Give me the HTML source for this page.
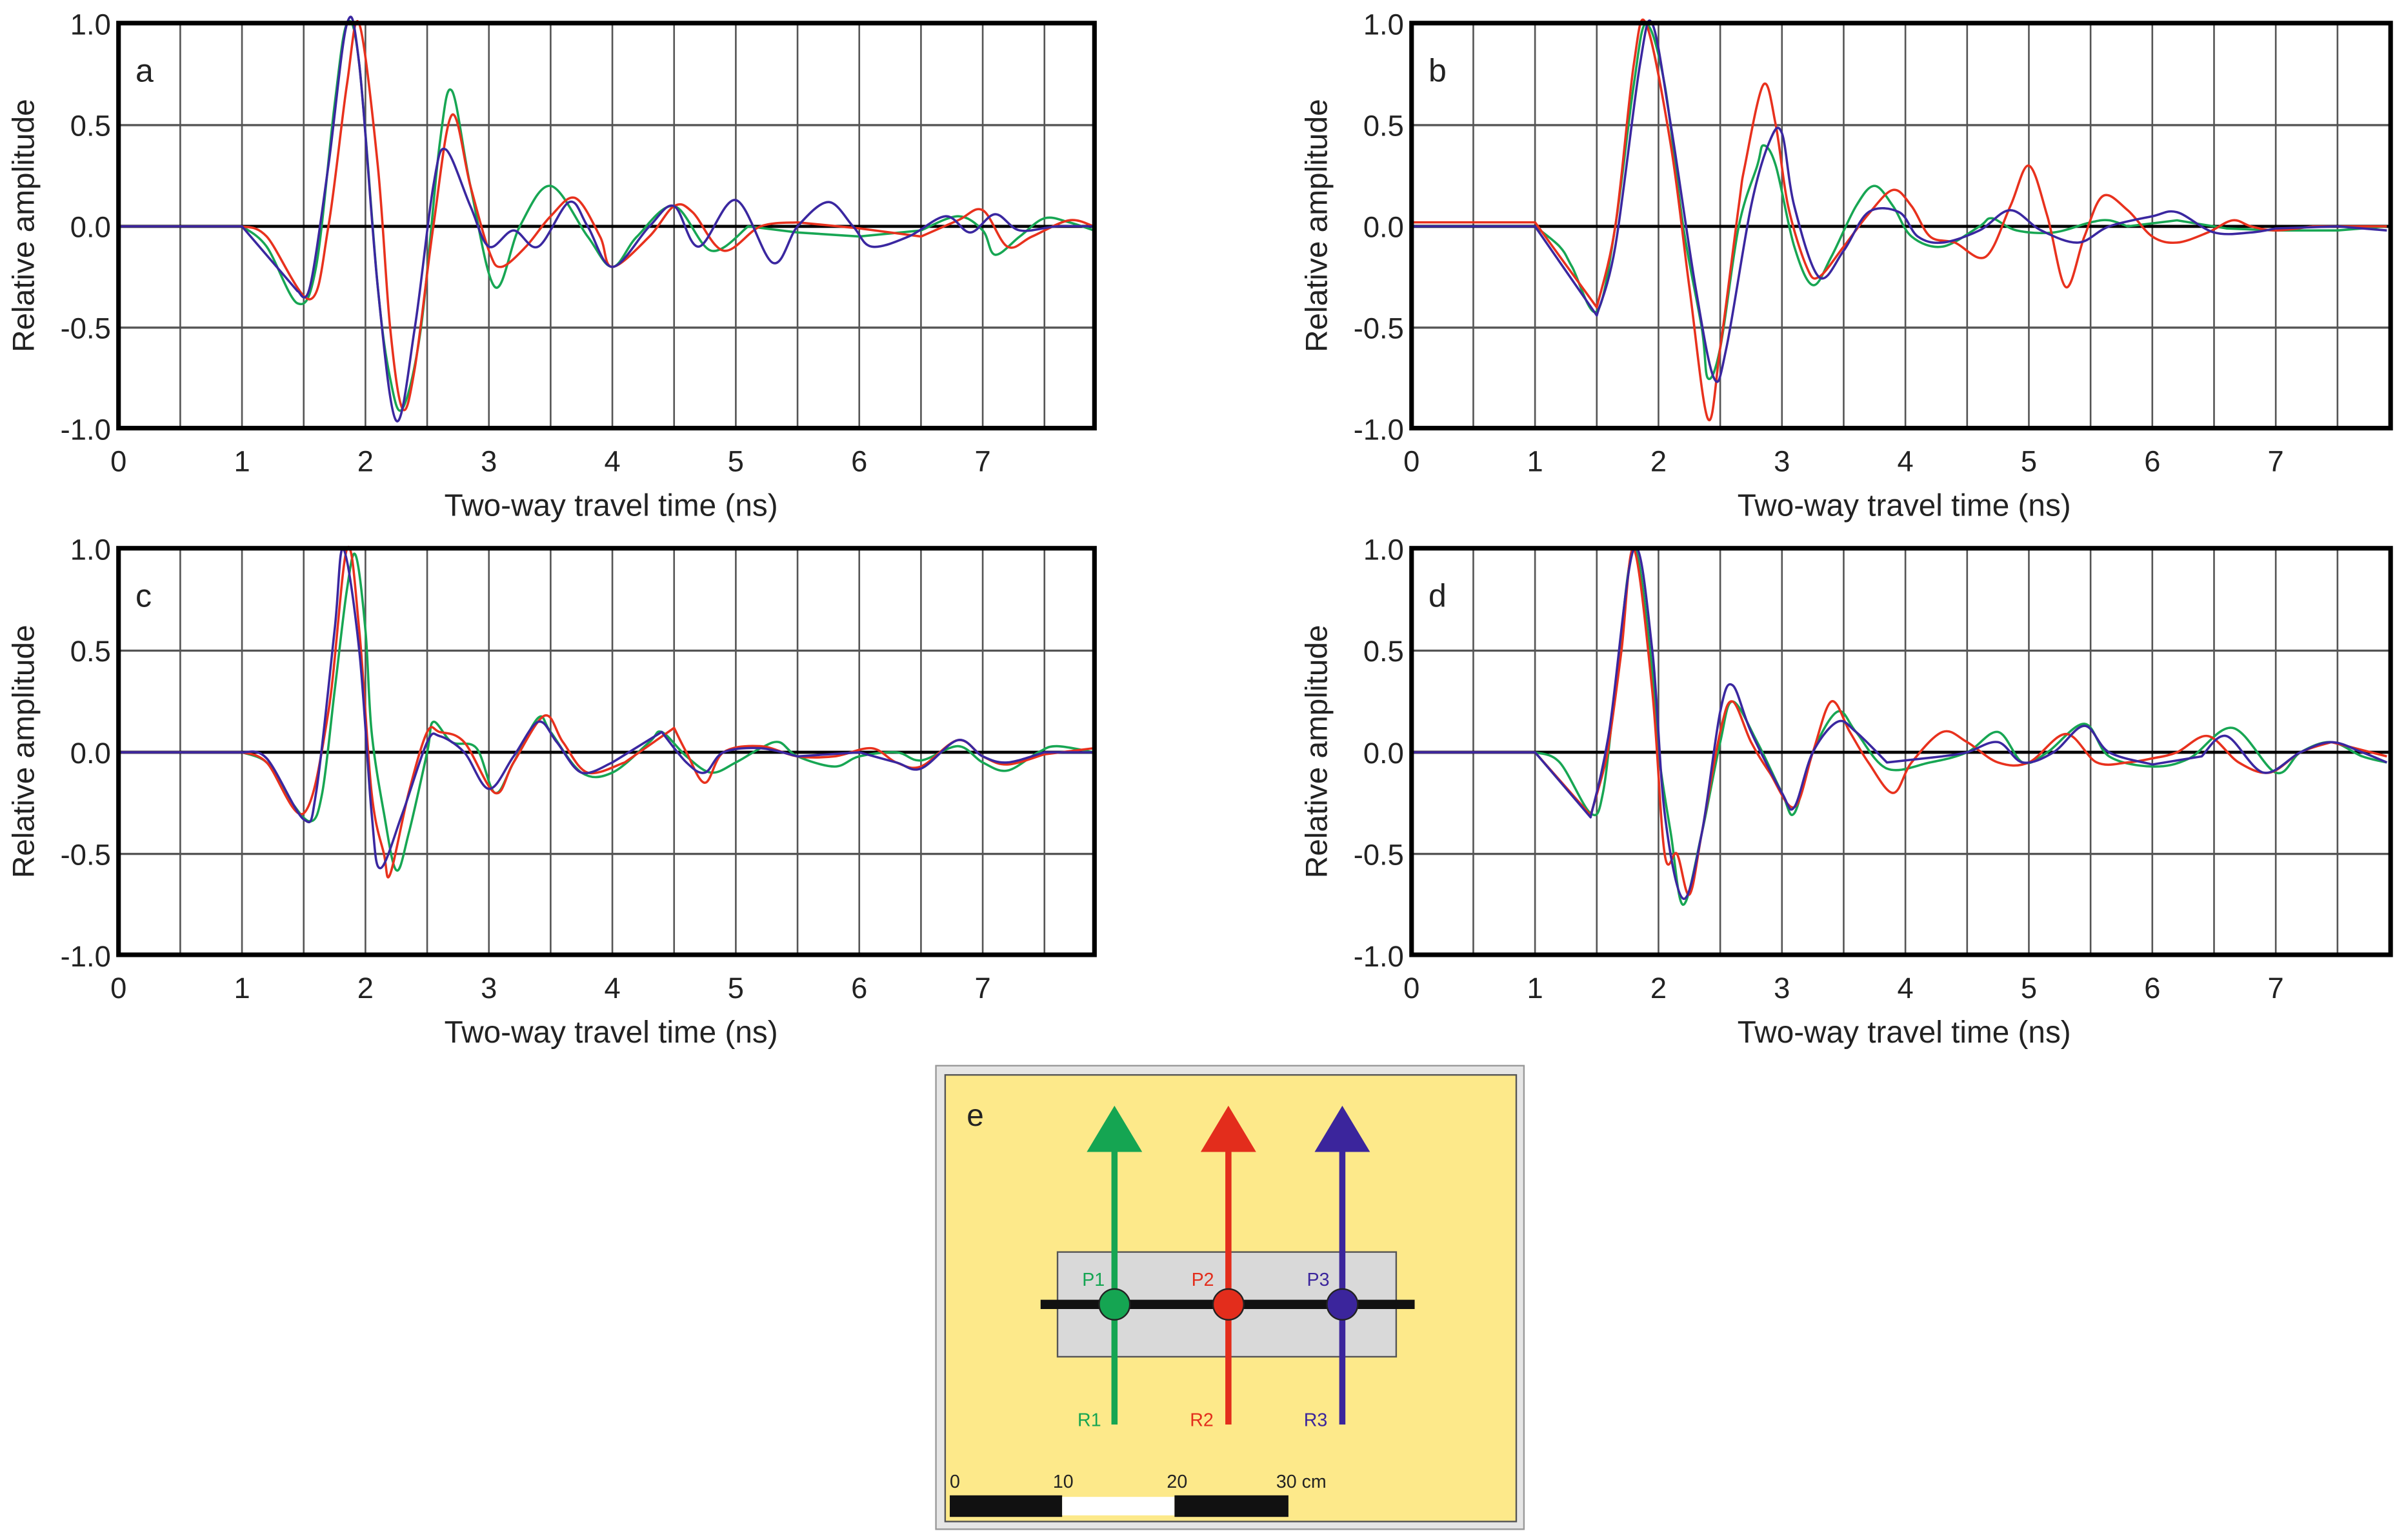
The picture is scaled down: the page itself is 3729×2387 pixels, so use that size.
<!DOCTYPE html>
<html><head><meta charset="utf-8"><style>
html,body{margin:0;padding:0;background:#fff;}
svg{display:block;}
text{font-family:"Liberation Sans",sans-serif;fill:#222;}
</style></head><body>
<svg id="fig" width="3729" height="2387" viewBox="0 0 1563 1000" preserveAspectRatio="none" xmlns="http://www.w3.org/2000/svg">
<g id="charts"></g>
<g>
  <rect x="608" y="692" width="382" height="301" fill="#e6e6e6" stroke="#999" stroke-width="1"/>
  <rect x="614" y="698" width="371" height="290" fill="#fde98a" stroke="#555" stroke-width="1"/>
  <text x="628" y="731" font-size="20">e</text>
  <rect x="687" y="813" width="220" height="68" fill="#d9d9d9" stroke="#555" stroke-width="1"/>
  <line x1="676" y1="847" x2="919" y2="847" stroke="#111" stroke-width="6"/>
  <g>
    <line x1="724" y1="925" x2="724" y2="745" stroke="#15a552" stroke-width="4"/>
    <polygon points="706,748 742,748 724,718" fill="#15a552"/>
    <circle cx="724" cy="847" r="10" fill="#15a552" stroke="#222" stroke-width="1"/>
    <text x="703" y="835" font-size="12" style="fill:#15a552">P1</text>
    <text x="700" y="926" font-size="12" style="fill:#15a552">R1</text>
  </g>
  <g>
    <line x1="798" y1="925" x2="798" y2="745" stroke="#e32d1c" stroke-width="4"/>
    <polygon points="780,748 816,748 798,718" fill="#e32d1c"/>
    <circle cx="798" cy="847" r="10" fill="#e32d1c" stroke="#222" stroke-width="1"/>
    <text x="774" y="835" font-size="12" style="fill:#e32d1c">P2</text>
    <text x="773" y="926" font-size="12" style="fill:#e32d1c">R2</text>
  </g>
  <g>
    <line x1="872" y1="925" x2="872" y2="745" stroke="#3b259c" stroke-width="4"/>
    <polygon points="854,748 890,748 872,718" fill="#3b259c"/>
    <circle cx="872" cy="847" r="10" fill="#3b259c" stroke="#222" stroke-width="1"/>
    <text x="849" y="835" font-size="12" style="fill:#3b259c">P3</text>
    <text x="847" y="926" font-size="12" style="fill:#3b259c">R3</text>
  </g>
  <g>
    <rect x="617" y="971" width="73" height="14" fill="#111"/>
    <rect x="690" y="972" width="73" height="12" fill="#fff"/>
    <rect x="763" y="971" width="74" height="14" fill="#111"/>
    <text x="617" y="966" font-size="12">0</text>
    <text x="684" y="966" font-size="12">10</text>
    <text x="758" y="966" font-size="12">20</text>
    <text x="829" y="966" font-size="12">30 cm</text>
  </g>
</g>
</svg>
<script>
// ---- data (time in ns, relative amplitude) ----
const aGreenT=[0,1.0,1.2,1.45,1.6,1.75,1.85,1.95,2.1,2.2,2.3,2.45,2.6,2.7,2.85,3.05,3.25,3.5,3.8,4.0,4.2,4.5,4.8,5.1,5.5,6.0,6.5,6.8,7.0,7.1,7.3,7.5,7.7,7.9];
const aGreenA=[0,0,-0.1,-0.38,-0.2,0.6,1.0,0.8,-0.3,-0.75,-0.9,-0.5,0.4,0.67,0.2,-0.3,0,0.2,-0.05,-0.2,-0.05,0.1,-0.12,0,-0.03,-0.05,-0.02,0.05,-0.02,-0.14,-0.05,0.04,0.02,-0.02];
const aRedT=[0,1.0,1.2,1.55,1.7,1.85,1.95,2.1,2.2,2.3,2.4,2.55,2.7,2.85,3.0,3.1,3.3,3.5,3.7,3.9,4.0,4.3,4.5,4.65,4.9,5.2,5.5,6.0,6.5,6.8,7.0,7.2,7.4,7.7,7.9];
const aRedA=[0,0,-0.05,-0.36,0,0.7,1.0,0.3,-0.5,-0.9,-0.7,0,0.55,0.2,-0.12,-0.2,-0.1,0.05,0.14,-0.05,-0.2,-0.05,0.1,0.07,-0.12,0,0.02,-0.01,-0.05,0.03,0.08,-0.1,-0.05,0.03,0];
const aBlueT=[0,1.0,1.45,1.55,1.7,1.85,1.95,2.1,2.25,2.4,2.55,2.65,2.85,3.0,3.2,3.4,3.65,3.8,4.0,4.3,4.5,4.7,5.0,5.3,5.5,5.75,5.95,6.1,6.4,6.7,6.9,7.1,7.3,7.6,7.9];
const aBlueA=[0,0,-0.32,-0.3,0.3,1.0,0.8,-0.3,-0.96,-0.5,0.2,0.38,0.1,-0.1,-0.02,-0.1,0.12,0,-0.2,0,0.1,-0.1,0.13,-0.18,0,0.12,0,-0.1,-0.05,0.05,-0.03,0.06,-0.02,0,0];

const bGreenT=[0,1.0,1.2,1.3,1.5,1.65,1.8,1.9,2.05,2.2,2.35,2.4,2.5,2.65,2.8,2.85,2.95,3.1,3.25,3.4,3.6,3.75,3.9,4.05,4.3,4.6,4.7,4.9,5.2,5.5,5.65,5.8,6.2,6.6,7.0,7.5,7.9];
const bGreenA=[0,0,-0.1,-0.2,-0.42,0,0.7,1.0,0.7,0,-0.5,-0.75,-0.6,0,0.3,0.4,0.3,-0.1,-0.29,-0.15,0.1,0.2,0.1,-0.05,-0.1,0,0.04,-0.02,-0.03,0.02,0.03,0,0.03,-0.01,-0.02,-0.02,0];
const bRedT=[0,1.0,1.5,1.65,1.8,1.9,2.1,2.25,2.4,2.5,2.65,2.7,2.85,2.95,3.05,3.2,3.3,3.5,3.7,3.9,4.05,4.2,4.4,4.65,4.85,5.0,5.15,5.3,5.45,5.6,5.8,6.0,6.2,6.45,6.65,6.8,7.0,7.3,7.9];
const bRedA=[0.02,0.02,-0.4,0,0.8,1.0,0.4,-0.3,-0.95,-0.6,0.1,0.3,0.7,0.5,0.1,-0.2,-0.25,-0.1,0.06,0.18,0.1,-0.05,-0.08,-0.15,0.1,0.3,0.05,-0.3,-0.05,0.15,0.08,-0.05,-0.08,-0.03,0.03,0,-0.02,0,0];
const bBlueT=[0,1.0,1.5,1.65,1.85,1.95,2.1,2.3,2.45,2.55,2.75,2.9,3.0,3.1,3.3,3.5,3.7,3.95,4.1,4.3,4.6,4.85,5.1,5.4,5.65,6.0,6.2,6.5,6.8,7.0,7.5,7.9];
const bBlueA=[0,0,-0.44,-0.1,0.8,1.0,0.5,-0.3,-0.75,-0.6,0.1,0.42,0.46,0.1,-0.25,-0.12,0.07,0.07,-0.05,-0.08,-0.02,0.08,-0.02,-0.08,0,0.05,0.07,-0.03,-0.03,-0.01,0,-0.02];

const cGreenT=[0,1.0,1.2,1.35,1.55,1.65,1.75,1.85,1.92,2.0,2.05,2.15,2.25,2.35,2.5,2.55,2.7,2.9,3.05,3.2,3.4,3.5,3.75,4.0,4.3,4.4,4.6,4.8,5.0,5.2,5.35,5.5,5.8,6.0,6.3,6.5,6.8,7.0,7.2,7.45,7.6,7.9];
const cGreenA=[0,0,-0.05,-0.2,-0.34,-0.2,0.3,0.8,0.97,0.6,0.1,-0.3,-0.58,-0.4,0,0.15,0.05,0.02,-0.2,-0.05,0.17,0.1,-0.1,-0.1,0.05,0.1,-0.02,-0.1,-0.05,0.02,0.05,-0.02,-0.07,-0.02,0,-0.04,0.03,-0.05,-0.09,0,0.03,0];
const cRedT=[0,1.0,1.2,1.5,1.7,1.85,1.95,2.05,2.15,2.2,2.35,2.5,2.6,2.8,3.05,3.2,3.45,3.6,3.8,4.1,4.5,4.6,4.75,4.9,5.2,5.5,5.8,6.1,6.3,6.5,6.8,7.0,7.2,7.5,7.9];
const cRedA=[0,0,-0.05,-0.3,0.2,1.0,0.6,-0.2,-0.5,-0.6,-0.2,0.1,0.1,0.05,-0.2,-0.05,0.18,0.05,-0.1,-0.05,0.12,0,-0.15,0,0.03,-0.02,-0.02,0.02,-0.05,-0.07,0.06,-0.02,-0.06,-0.01,0.02];
const cBlueT=[0,1.0,1.2,1.5,1.6,1.75,1.82,1.95,2.05,2.12,2.3,2.5,2.6,2.8,3.0,3.2,3.4,3.55,3.75,4.0,4.4,4.6,4.75,4.9,5.2,5.5,6.0,6.3,6.5,6.8,7.0,7.2,7.5,7.9];
const cBlueA=[0,0,-0.03,-0.33,-0.2,0.6,1.0,0.5,-0.3,-0.57,-0.3,0.05,0.08,0,-0.18,-0.02,0.15,0.05,-0.1,-0.05,0.1,-0.05,-0.1,0,0.02,-0.02,0,-0.05,-0.08,0.06,-0.02,-0.05,0,0];

const dGreenT=[0,1.0,1.2,1.45,1.55,1.65,1.8,1.95,2.0,2.1,2.2,2.35,2.5,2.6,2.8,3.0,3.1,3.25,3.45,3.6,3.85,4.2,4.5,4.75,4.95,5.15,5.45,5.65,6.0,6.3,6.65,7.0,7.2,7.45,7.7,7.9];
const dGreenA=[0,0,-0.05,-0.3,-0.2,0.3,1.0,0.4,0,-0.4,-0.75,-0.4,0.05,0.25,0.05,-0.2,-0.3,0,0.2,0.1,-0.08,-0.05,0,0.1,-0.05,0,0.14,-0.02,-0.07,-0.03,0.12,-0.1,0,0.05,-0.02,-0.05];
const dRedT=[0,1.0,1.45,1.55,1.6,1.7,1.8,1.95,2.05,2.15,2.25,2.35,2.5,2.6,2.75,2.9,3.1,3.25,3.4,3.55,3.7,3.9,4.05,4.3,4.5,4.75,5.0,5.3,5.55,5.8,6.0,6.2,6.45,6.7,6.95,7.2,7.45,7.9];
const dRedA=[0,0,-0.31,-0.1,0.05,0.5,1.0,0.3,-0.5,-0.5,-0.7,-0.4,0.1,0.25,0.05,-0.1,-0.27,0,0.25,0.1,-0.05,-0.2,-0.05,0.1,0.05,-0.05,-0.05,0.09,-0.05,-0.05,-0.03,0,0.08,-0.05,-0.1,0,0.05,-0.02];
const dBlueT=[0,1.0,1.45,1.6,1.8,1.95,2.05,2.2,2.35,2.5,2.6,2.75,3.0,3.1,3.25,3.45,3.6,3.85,4.3,4.5,4.75,4.95,5.2,5.45,5.65,6.0,6.4,6.6,6.9,7.2,7.45,7.7,7.9];
const dBlueA=[0,0,-0.32,0.1,1.0,0.5,-0.3,-0.72,-0.4,0.2,0.33,0.1,-0.2,-0.27,0,0.15,0.1,-0.05,-0.02,0,0.05,-0.05,0,0.13,0,-0.06,-0.02,0.08,-0.1,0,0.05,0,-0.05];

const xTickLabels=["0","1","2","3","4","5","6","7"];
const yTickValues=[1.0,0.5,0.0,-0.5,-1.0];
const yTickLabels=["1.0","0.5","0.0","-0.5","-1.0"];

const panels=[
 {id:"a",L:77,R:711,T:15,B:278,title:"Two-way travel  time (ns)",series:[[aGreenT,aGreenA],[aRedT,aRedA],[aBlueT,aBlueA]]},
 {id:"b",L:917,R:1553,T:15,B:278,title:"Two-way travel  time (ns)",series:[[bGreenT,bGreenA],[bRedT,bRedA],[bBlueT,bBlueA]]},
 {id:"c",L:77,R:711,T:356,B:620,title:"Two-way travel time (ns)",series:[[cGreenT,cGreenA],[cRedT,cRedA],[cBlueT,cBlueA]]},
 {id:"d",L:917,R:1553,T:356,B:620,title:"Two-way travel time (ns)",series:[[dGreenT,dGreenA],[dRedT,dRedA],[dBlueT,dBlueA]]}
];
const colors=["#17a653","#e8311d","#3a27a0"];
const names=["green","red","blue"];
const NS="http://www.w3.org/2000/svg";
const root=document.getElementById("charts");
function mk(tag,attrs,parent){const e=document.createElementNS(NS,tag);for(const k in attrs)e.setAttribute(k,attrs[k]);parent.appendChild(e);return e;}

panels.forEach(p=>{
  const g=mk("g",{},root);
  
  
  const pxPerNs=80.2;
  const xs=t=>p.L+t*pxPerNs;
  const zero=(p.T+p.B)/2+0.5;
  const half=(p.B-p.T)/4;
  const ys=a=>zero-a*2*half;
  for(let t=0.5;t<7.9;t+=0.5){
    const l=mk("line",{x1:xs(t),x2:xs(t),y1:p.T,y2:p.B,stroke:"#555","stroke-width":1.1},g);
    
    
  }
  [0.5,-0.5].forEach(v=>{
    const l=mk("line",{x1:p.L,x2:p.R,y1:ys(v),y2:ys(v),stroke:"#555","stroke-width":1.4},g);
    
    
  });
  const z=mk("line",{x1:p.L,x2:p.R,y1:ys(0),y2:ys(0),stroke:"#000","stroke-width":2},g);
  
  
  p.series.forEach((s,i)=>{
    const T=s[0],A=s[1];
    const pts=T.map((t,k)=>[xs(t),ys(A[k])]);
    let d="M"+pts[0][0]+","+pts[0][1];
    for(let k=0;k<pts.length-1;k++){
      const p1=pts[k],p2=pts[k+1];
      if(p2[0]-p1[0]>30){d+=" L"+p2[0]+","+p2[1];continue;}
      let p0=pts[k-1]||p1,p3=pts[k+2]||p2;
      if(p1[0]-p0[0]>30)p0=p1;
      if(p3[0]-p2[0]>30)p3=p2;
      const c1=[p1[0]+(p2[0]-p0[0])/6,p1[1]+(p2[1]-p0[1])/6];
      const c2=[p2[0]-(p3[0]-p1[0])/6,p2[1]-(p3[1]-p1[1])/6];
      d+=" C"+c1[0]+","+c1[1]+" "+c2[0]+","+c2[1]+" "+p2[0]+","+p2[1];
    }
    const path=mk("path",{d:d,fill:"none",stroke:colors[i],"stroke-width":1.5,"stroke-linejoin":"round"},g);
    
    
  });
  const fr=mk("rect",{x:p.L,y:p.T,width:p.R-p.L,height:p.B-p.T,fill:"none",stroke:"#000","stroke-width":3},g);
  
  
  yTickValues.forEach((v,k)=>{
    const t=mk("text",{x:p.L-5,y:ys(v)+7,"font-size":19,"text-anchor":"end"},g);
    t.textContent=yTickLabels[k];
    
    
  });
  xTickLabels.forEach((lab,k)=>{
    const t=mk("text",{x:xs(k),y:p.B+28,"font-size":19,"text-anchor":"middle"},g);
    t.textContent=lab;
    
    
  });
  const xt=mk("text",{x:p.L+320,y:p.B+57,"font-size":20,"text-anchor":"middle"},g);
  xt.textContent=p.title;
  
  
  const cx=p.L-55, cy=(p.T+p.B)/2;
  const yt=mk("text",{x:cx,y:cy,"font-size":20,"text-anchor":"middle",transform:"rotate(-90 "+cx+" "+cy+")"},g);
  yt.textContent="Relative amplitude";
  
  
  const pl=mk("text",{x:p.L+11,y:p.T+38,"font-size":21},g);
  pl.textContent=p.id;
  
  
});
</script>
</body></html>
